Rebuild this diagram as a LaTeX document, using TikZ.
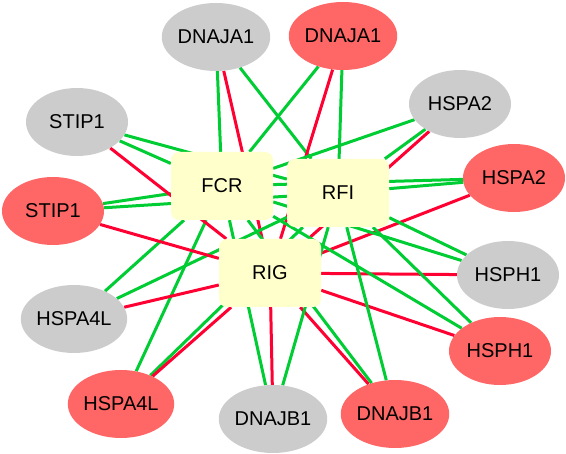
\documentclass[tikz,border=0pt]{standalone}
\usepackage{fontspec}
\setmainfont{Liberation Sans}
\usetikzlibrary{shapes.geometric,backgrounds}
\definecolor{protgray}{HTML}{CCCCCC}
\definecolor{protred}{HTML}{FF6666}
\definecolor{hubfill}{HTML}{FFFFCC}
\definecolor{edgegreen}{HTML}{00CC33}
\definecolor{edgered}{HTML}{FF0033}
\tikzset{ g/.style = { ellipse
                       , fill = protgray
                       , inner sep    = 0pt
                       , minimum width  = 102pt
                       , minimum height = 68pt
                       },
            r/.style = { g
            , fill = protred
            },
            hub/.style = { rectangle
            , rounded corners = 8pt
            , fill = hubfill
            , minimum width  = 102pt
            , minimum height = 68pt
            },
            gl/.style = { draw = edgegreen, line width = 3pt },
            rl/.style = { draw = edgered, line width = 3pt }
          }

\begin{document}
\begin{tikzpicture}[x=1pt, y=-1pt, font=\fontsize{20}{24}\selectfont]
            \useasboundingbox (0,0) rectangle (566,454);
            % hubs
            \node[hub] (FCR) at (222,186) {FCR};
            \node[hub] (RFI) at (338,193) {RFI};
            \node[hub] (RIG) at (270,273) {RIG};
            % proteins
            \node[g] (gDNAJA1) at (216,37)  {DNAJA1};
            \node[r] (rDNAJA1) at (343,36)  {DNAJA1};
            \node[g] (gHSPA2)  at (460,104) {HSPA2};
            \node[r] (rHSPA2)  at (514,178) {HSPA2};
            \node[g] (gHSPH1)  at (508,275) {HSPH1};
            \node[r] (rHSPH1)  at (500,351) {HSPH1};
            \node[r] (rDNAJB1) at (395,414) {DNAJB1};
            \node[g] (gDNAJB1) at (273,419) {DNAJB1};
            \node[r] (rHSPA4L) at (121,404) {HSPA4L};
            \node[g] (gHSPA4L) at (74,319)  {HSPA4L};
            \node[r] (rSTIP1)  at (53,211)  {STIP1};
            \node[g] (gSTIP1)  at (77,122)  {STIP1};
            \begin{pgfonlayer}{background}
            \foreach \p in {gDNAJA1,rDNAJA1,gHSPA2,rHSPA2,gHSPH1,rHSPH1,
                            rDNAJB1,gDNAJB1,rHSPA4L,gHSPA4L,rSTIP1,gSTIP1} {
                \draw[gl] (\p) -- (FCR);
                \draw[gl] (\p) -- (RFI);
                \draw[rl] (\p) -- (RIG);
            }
            \end{pgfonlayer}
        \end{tikzpicture}
\end{document}
